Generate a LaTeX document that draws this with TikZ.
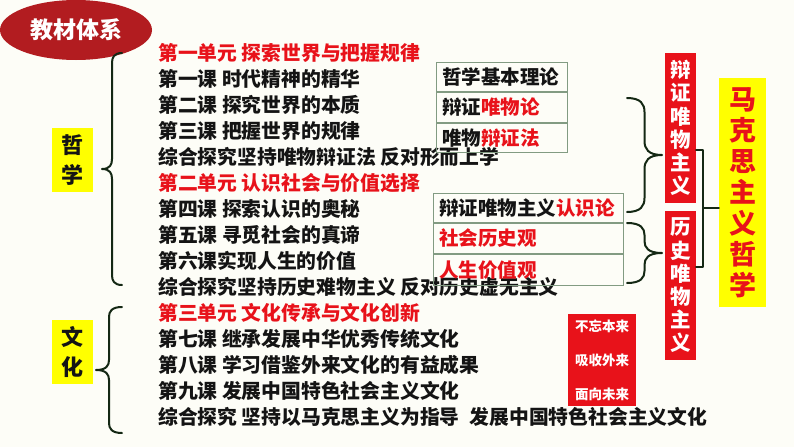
\documentclass[tikz,border=0pt]{standalone}
\usepackage{fontspec}
\setmainfont{Noto Sans CJK SC}
\usetikzlibrary{positioning}
\usetikzlibrary{shapes.geometric}

\definecolor{paper}{RGB}{253,253,247}
\definecolor{hired}{RGB}{232,18,26}
\definecolor{darkred}{RGB}{178,28,32}
\definecolor{sunyellow}{RGB}{255,255,0}
\definecolor{inkblack}{RGB}{20,20,20}
\definecolor{bracegreen}{RGB}{20,40,20}
\definecolor{gridgreen}{RGB}{130,155,130}

\newcommand{\redtxt}[1]{\textcolor{hired}{#1}}
% #1 top coordinate, #2 length, #3 depth (negative points left), #4 curl
\newcommand{\curly}[4]{%
  \draw[bracestroke] (#1)
    .. controls +({0.4*(#3)},0) and +(0,{-0.55*(#4)}) .. ++({0.5*(#3)},#4)
    -- ++(0,{(#2)/2-2*(#4)})
    .. controls +(0,{0.55*(#4)}) and +({-0.4*(#3)},0) .. ++({0.5*(#3)},#4)
    .. controls +({-0.4*(#3)},0) and +(0,{-0.55*(#4)}) .. ++({-0.5*(#3)},#4)
    -- ++(0,{(#2)/2-2*(#4)})
    .. controls +(0,{0.55*(#4)}) and +({0.4*(#3)},0) .. ++({-0.5*(#3)},#4);
}

\tikzset{
  lesson/.style={anchor=west, inner sep=0pt, text=inkblack,
    font=\bfseries\fontsize{19.8}{20}\selectfont},
  unitline/.style={lesson, text=hired},
  nextline/.style={below=26pt of #1.west, anchor=west},
  tagbox/.style={fill=sunyellow, text=inkblack, minimum width=41pt,
    minimum height=64pt, inner sep=0pt, align=center,
    font=\bfseries\fontsize{22}{30}\selectfont},
  cell/.style={draw=gridgreen, line width=0.8pt, inner xsep=6pt, inner ysep=0pt,
    minimum height=29.7pt, align=left, text=inkblack,
    font=\bfseries\fontsize{19.5}{20}\selectfont},
  vbox/.style={fill=hired, text=white, minimum width=31pt, inner sep=0pt,
    align=center, font=\bfseries\fontsize{20.5}{23.2}\selectfont},
  bracestroke/.style={draw=bracegreen, line width=2pt, line cap=round, line join=round}
}

\begin{document}
\begin{tikzpicture}[x=1pt, y=-1pt]
    \fill[paper] (0,0) rectangle (794,447);
    \useasboundingbox (0,0) rectangle (794,447);

    \node[ellipse, fill=darkred, minimum width=152pt, minimum height=60pt, inner sep=0pt,
      text=white, font=\bfseries\fontsize{23}{23}\selectfont] (title) at (76,30) {教材体系};

    \node[tagbox] (zx) at (72.5,160) {哲\\学};
    \node[tagbox] (wh) at (72.5,351.5) {文\\化};

    \node[unitline] (u1) at (158,53) {第一单元 探索世界与把握规律};
    \node[lesson, nextline=u1] (l1) {第一课 时代精神的精华};
    \node[lesson, nextline=l1] (l2) {第二课 探究世界的本质};
    \node[lesson, nextline=l2] (l3) {第三课 把握世界的规律};
    \node[lesson, nextline=l3] (l4) {综合探究坚持唯物辩证法 反对形而上学};
    \node[unitline, nextline=l4] (u2) {第二单元 认识社会与价值选择};
    \node[lesson, nextline=u2] (l5) {第四课 探索认识的奥秘};
    \node[lesson, nextline=l5] (l6) {第五课 寻觅社会的真谛};
    \node[lesson, nextline=l6] (l7) {第六课实现人生的价值};
    \node[lesson, nextline=l7] (l8) {综合探究坚持历史难物主义 反对历史虚无主义};
    \node[unitline, nextline=l8] (u3) {第三单元 文化传承与文化创新};
    \node[lesson, nextline=u3] (l9) {第七课 继承发展中华优秀传统文化};
    \node[lesson, nextline=l9] (l10) {第八课 学习借鉴外来文化的有益成果};
    \node[lesson, nextline=l10] (l11) {第九课 发展中国特色社会主义文化};
    \node[lesson, nextline=l11] (l12) {综合探究 坚持以马克思主义为指导\hspace{10pt}发展中国特色社会主义文化};

    \node[cell, text width=119pt] (t1) at (501.5,77) {哲学基本理论};
    \node[cell, text width=119pt, below=0pt of t1] (t2) {辩证\redtxt{唯物论}};
    \node[cell, text width=119pt, below=0pt of t2] (t3) {唯物\redtxt{辩证法}};

    \node[cell, text width=178pt] (t4) at (528,208) {辩证唯物主义\redtxt{认识论}};
    \node[cell, text width=178pt, below=0pt of t4] (t5) {\redtxt{社会历史观}};
    \node[cell, text width=178pt, below=0pt of t5, minimum height=31pt] (t6) {\redtxt{人生价值观}};

    \node[vbox, minimum height=150pt] (dv) at (680.5,128) {辩\\证\\唯\\物\\主\\义};
    \node[vbox, minimum height=149pt] (hv) at (680.5,285.5) {历\\史\\唯\\物\\主\\义};

    \node[fill=sunyellow, text=hired, minimum width=47pt, minimum height=229pt, inner sep=0pt,
      align=center, font=\bfseries\fontsize{27}{31}\selectfont] (mk) at (742.5,192.5)
      {马\\克\\思\\主\\义\\哲\\学};

    \node[fill=hired, text=white, minimum width=68pt, minimum height=92pt, inner sep=0pt,
      align=center, font=\bfseries\fontsize{13.5}{34}\selectfont] (sm) at (602,360)
      {不忘本来\\吸收外来\\面向未来};

    \coordinate (b1t) at (122,53);
    \coordinate (b2t) at (122,307);
    \coordinate (b3t) at (627,98);
    \coordinate (b4t) at (627,223);
    \curly{b1t}{232}{-20}{10}
    \curly{b2t}{126}{-26}{10}
    \curly{b3t}{114}{35}{14}
    \curly{b4t}{60}{35}{12}

    \coordinate (k1) at (696,150);
    \coordinate (k2) at (696,267);
    \coordinate (kx) at (703,208);
    \draw[bracestroke] (k1) -- (k1 -| kx) -- (k2 -| kx) -- (k2);
    \draw[bracestroke] (kx) -- (kx -| mk.west);
\end{tikzpicture}
\end{document}
